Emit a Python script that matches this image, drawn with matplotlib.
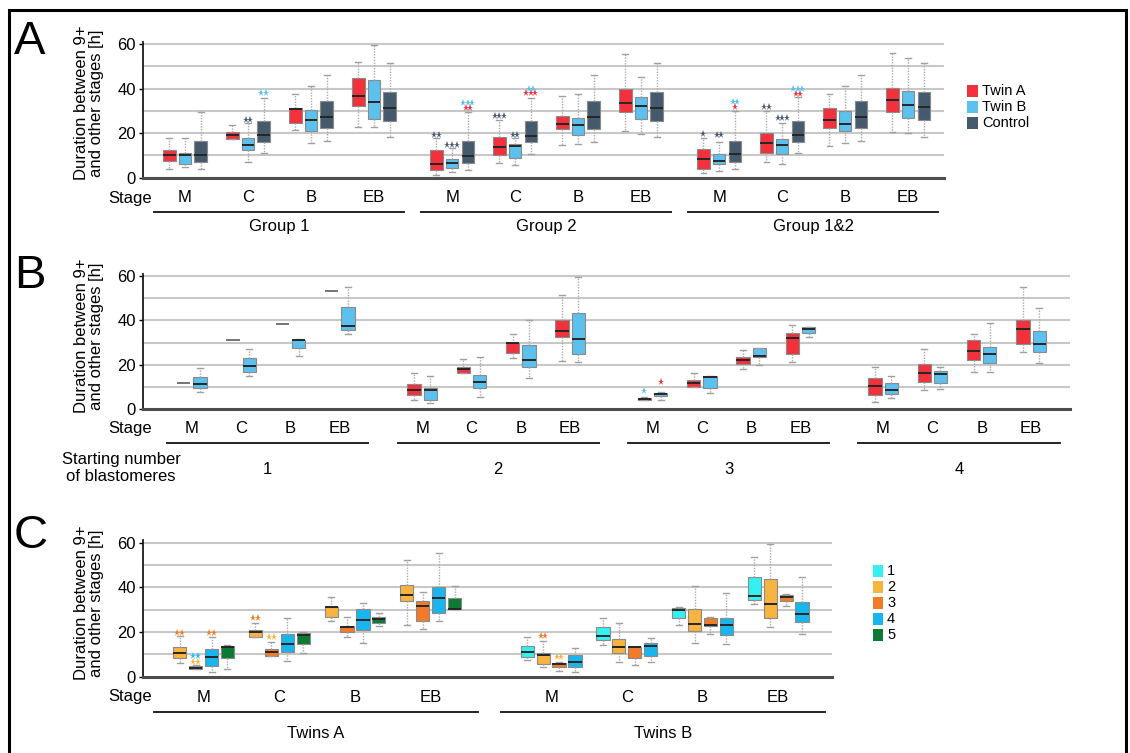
import matplotlib
matplotlib.use('Agg')
import matplotlib.pyplot as plt
import matplotlib.transforms as mtransforms
from matplotlib.patches import Rectangle
from matplotlib.lines import Line2D

plt.rcParams['font.family'] = ['Liberation Sans', 'DejaVu Sans']

W, H = 1130, 753
fig = plt.figure(figsize=(W / 100, H / 100), dpi=100)

# ---------------- data ----------------
stages = ['M', 'C', 'B', 'EB']
groups_A = ['Group 1', 'Group 2', 'Group 1&2']
groups_B = ['1', '2', '3', '4']
groups_C = ['Twins A', 'Twins B']
series_A = ['Twin A', 'Twin B', 'Control']
legend_C = ['1', '2', '3', '4', '5']

# each box: (whisker low, Q1, median, Q3, whisker high); order: group x stage
A_twin_a = [(3.8, 7.5, 10.1, 12.4, 17.8), (17.3, 17.3, 19.2, 20.4, 23.8),
            (21.6, 24.7, 30.9, 31.4, 37.7), (22.9, 32.0, 36.5, 44.9, 52.0),
            (1.2, 3.3, 6.3, 12.4, 17.8), (6.8, 10.3, 13.9, 18.1, 25.9),
            (14.8, 21.7, 24.1, 27.9, 36.7), (20.8, 29.4, 33.6, 39.7, 55.5),
            (1.9, 4.0, 8.4, 12.7, 17.7), (6.9, 10.9, 15.7, 20.2, 29.9),
            (14.2, 22.2, 25.9, 31.1, 37.6), (20.7, 29.3, 34.9, 40.1, 55.8)]
A_twin_b = [(4.8, 6.0, 10.2, 11.0, 17.8), (7.2, 12.4, 14.8, 17.8, 24.4),
            (15.5, 21.1, 25.9, 30.5, 41.0), (22.9, 26.4, 33.8, 44.0, 59.6),
            (2.7, 4.5, 6.5, 8.3, 13.3), (5.6, 8.7, 14.3, 15.1, 17.8),
            (15.1, 19.3, 23.8, 26.8, 37.7), (19.6, 26.4, 32.0, 36.2, 45.2),
            (3.1, 6.1, 7.6, 10.6, 16.2), (6.1, 10.6, 14.7, 17.2, 24.7),
            (15.4, 21.1, 24.1, 30.1, 41.2), (19.9, 26.6, 32.6, 39.1, 53.6)]
A_control = [(3.8, 7.1, 10.2, 16.6, 29.7), (10.9, 16.1, 19.2, 25.6, 35.9),
             (16.3, 22.2, 27.1, 34.4, 46.3), (18.4, 25.6, 31.4, 38.5, 51.3),
             (3.3, 6.8, 9.8, 16.3, 29.7), (10.6, 15.8, 18.7, 25.6, 35.9),
             (16.1, 21.9, 27.1, 34.4, 46.3), (18.1, 25.6, 31.4, 38.5, 51.3),
             (3.7, 7.0, 10.5, 16.6, 29.9), (10.9, 16.2, 19.0, 25.6, 36.4),
             (16.5, 22.2, 27.4, 34.6, 46.1), (18.4, 25.9, 31.6, 38.5, 51.3)]
# significance marks: (group, stage, series, number of stars, colour key, value)
A_stars = [(0, 1, 1, 2, 'ctrl', 25.9), (0, 1, 2, 2, 'b', 38.0),
           (1, 0, 0, 2, 'ctrl', 19.3), (1, 0, 1, 3, 'ctrl', 14.8),
           (1, 0, 2, 2, 'a', 31.4), (1, 0, 2, 3, 'b', 33.6),
           (1, 1, 0, 3, 'ctrl', 27.8), (1, 1, 1, 2, 'ctrl', 19.3),
           (1, 1, 2, 3, 'a', 38.0), (1, 1, 2, 2, 'b', 39.8),
           (2, 0, 0, 1, 'ctrl', 19.6), (2, 0, 1, 2, 'ctrl', 19.0),
           (2, 0, 2, 1, 'a', 31.6), (2, 0, 2, 2, 'b', 34.1),
           (2, 1, 0, 2, 'ctrl', 31.9), (2, 1, 1, 3, 'ctrl', 26.6),
           (2, 1, 2, 2, 'a', 37.6), (2, 1, 2, 3, 'b', 39.7)]

# Panel B: Twin A with 1 starting blastomere has a single embryo
B_twin_a_single = [12.0, 31.0, 38.6, 53.2]
B_twin_a = [(4.2, 6.4, 8.7, 11.2, 16.2), (16.2, 16.2, 18.1, 18.9, 22.6),
            (23.2, 25.2, 29.7, 29.7, 34.1), (21.9, 32.7, 35.4, 40.0, 51.6),
            (4.0, 4.2, 4.6, 5.2, 5.4), (10.0, 10.0, 11.7, 13.2, 16.2),
            (18.1, 20.4, 22.2, 23.4, 26.7), (21.1, 24.9, 31.9, 34.2, 37.8),
            (3.4, 6.3, 10.5, 13.9, 19.2), (8.7, 12.4, 16.2, 20.2, 27.1),
            (16.6, 22.2, 26.2, 31.2, 33.9), (25.6, 29.2, 36.0, 40.2, 55.2)]
B_twin_b = [(8.0, 9.7, 11.3, 14.6, 18.8), (15.0, 16.9, 19.5, 23.1, 27.1),
            (24.0, 27.4, 31.0, 31.3, 31.5), (33.8, 35.6, 37.5, 45.9, 55.1),
            (3.0, 4.2, 8.7, 9.4, 15.0), (5.7, 9.7, 12.1, 15.4, 23.4),
            (13.9, 19.2, 22.3, 29.1, 40.3), (21.1, 24.9, 31.7, 43.4, 59.6),
            (4.2, 6.0, 6.9, 7.5, 7.9), (7.2, 9.7, 14.5, 15.0, 15.0),
            (19.9, 23.4, 24.0, 27.4, 27.4), (32.4, 34.5, 36.1, 37.2, 37.2),
            (4.9, 6.7, 8.7, 12.0, 15.1), (9.3, 11.7, 15.9, 17.4, 19.2),
            (16.9, 20.7, 24.9, 27.9, 38.7), (21.0, 25.9, 29.5, 35.1, 45.7)]
B_stars = [(2, 0, 0, 1, 'b', 8.4), (2, 0, 1, 1, 'a', 12.1)]

# Panel C: per starting number of blastomeres, stages M, C, B, EB
CA_2 = [(6.3, 8.5, 10.6, 13.2, 18.2), (17.9, 17.9, 20.2, 20.9, 24.2),
        (25.1, 26.9, 31.0, 31.3, 35.5), (23.2, 34.0, 36.6, 41.0, 52.2)]
CA_3 = [(3.3, 3.5, 4.0, 4.8, 5.2), (9.4, 9.4, 11.2, 12.5, 15.4),
        (17.6, 20.1, 22.2, 22.9, 26.6), (21.2, 25.0, 31.8, 33.9, 37.9)]
CA_4 = [(1.9, 4.9, 9.0, 12.2, 18.0), (7.2, 10.9, 14.6, 19.0, 26.1),
        (15.3, 21.0, 25.2, 30.3, 33.1), (24.9, 28.4, 35.4, 40.0, 55.5)]
CA_5 = [(3.3, 8.5, 13.4, 13.9, 14.2), (10.4, 14.5, 18.7, 19.4, 19.9),
        (22.8, 24.2, 25.9, 26.9, 28.4), (30.1, 30.1, 30.5, 35.4, 40.6)]
CB_1 = [(7.5, 9.0, 11.2, 13.7, 17.6), (14.2, 16.4, 18.4, 22.4, 26.1),
        (23.0, 26.4, 29.9, 30.6, 31.0), (32.5, 34.3, 36.1, 44.5, 53.4)]
CB_2 = [(4.5, 5.5, 9.7, 10.4, 16.1), (6.7, 10.4, 13.4, 16.7, 23.9),
        (15.2, 20.4, 23.6, 30.1, 40.6), (22.1, 26.1, 32.4, 43.6, 59.3)]
CB_3 = [(2.7, 4.5, 5.5, 6.0, 6.7), (5.2, 8.2, 13.2, 13.4, 13.4),
        (19.1, 22.7, 23.1, 26.4, 26.6), (31.6, 34.0, 35.5, 36.6, 37.0)]
CB_4 = [(2.2, 4.5, 6.4, 9.7, 12.7), (6.7, 9.4, 13.7, 14.9, 17.2),
        (14.6, 18.7, 23.1, 26.1, 37.3), (19.1, 24.3, 27.9, 33.6, 44.8)]
C_stars = [(0, 0, 0, 2, '3', 19.7), (0, 0, 1, 2, '4', 9.4),
           (0, 0, 1, 2, '2', 6.4), (0, 0, 2, 2, '3', 19.7),
           (0, 1, 0, 2, '3', 26.1), (0, 1, 1, 2, '2', 17.6),
           (1, 0, 1, 2, '3', 18.2), (1, 0, 2, 2, '2', 9.0)]

# ---------------- styling ----------------
COL = {'a': '#F2313C', 'b': '#5CC1EE', 'ctrl': '#465A6E',
       '1': '#35F0F0', '2': '#F8B43E', '3': '#F27B2A', '4': '#17B6EE', '5': '#0C7A35'}
STAR_COL = {'a': '#F2313C', 'b': '#55C3F2', 'ctrl': '#4A5C72',
            '2': '#F8B43E', '3': '#F27B2A', '4': '#29BDF2'}
FS = 12


def px_axes(left, right, y0, y60, ytop=61):
    unit = (y0 - y60) / 60.0
    top = y0 - ytop * unit
    ax = fig.add_axes([left / W, 1 - y0 / H, (right - left) / W, (y0 - top) / H])
    ax.set_ylim(0, ytop)
    ax.set_yticks([0, 20, 40, 60])
    ax.set_yticks([10, 30, 50], minor=True)
    ax.set_xticks([])
    ax.grid(True, axis='y', which='both', color='#c8c8c8', lw=1.5)
    ax.set_axisbelow(True)
    for s in ('top', 'right'):
        ax.spines[s].set_visible(False)
    ax.spines['bottom'].set_color('#4d4d4d')
    ax.spines['bottom'].set_linewidth(2.2)
    ax.spines['left'].set_color('#1a1a1a')
    ax.spines['left'].set_linewidth(1.3)
    ax.tick_params(axis='y', which='major', labelsize=FS, length=3, pad=2, width=1)
    ax.tick_params(axis='y', which='minor', length=0)
    ax._px_width = right - left
    return ax


def draw_boxes(ax, boxes, positions, width, color):
    stats = [dict(whislo=b[0], q1=b[1], med=b[2], q3=b[3], whishi=b[4]) for b in boxes]
    ax.bxp(stats, positions=positions, widths=width, patch_artist=True,
           showfliers=False, manage_ticks=False, capwidths=width * 0.45,
           boxprops=dict(facecolor=color, edgecolor='#8a8a8a', lw=0.8),
           medianprops=dict(color='#262626', lw=1.4),
           whiskerprops=dict(color='#ababab', lw=1.0, ls=(0, (1, 1))),
           capprops=dict(color='#a0a0a0', lw=1.0))


def stars(ax, marks, pos_fn):
    x0, x1 = ax.get_xlim()
    dx = 4.6 * (x1 - x0) / ax._px_width  # ~4.6 px between stars
    for g, s, k, n, ck, v in marks:
        c = pos_fn(g, s, k)
        xs = [c + (i - (n - 1) / 2) * dx for i in range(n)]
        ax.plot(xs, [v] * n, ls='none', marker='*', ms=5.2, mew=0,
                color=STAR_COL[ck], zorder=5)


def under_labels(ax, centers_stage, group_centers, group_half, group_names,
                 y_stage, y_line, y_group, stage_x_px):
    tr = mtransforms.blended_transform_factory(ax.transData, fig.transFigure)
    for x, lab in centers_stage:
        fig.text(x, 1 - y_stage / H, lab, transform=tr, ha='center', va='center', fontsize=FS)
    fig.text(stage_x_px / W, 1 - y_stage / H, 'Stage', ha='right', va='center', fontsize=FS)
    for c, (l, r), name in zip(group_centers, group_half, group_names):
        fig.add_artist(Line2D([l, r], [1 - y_line / H] * 2, transform=tr,
                              color='#222222', lw=1.4))
        fig.text(c, 1 - y_group / H, name, transform=tr, ha='center', va='center', fontsize=FS)


def ylabel(x_px, y_px):
    fig.text(x_px / W, 1 - y_px / H, 'Duration between 9+\nand other stages [h]',
             rotation=90, ha='center', va='center', fontsize=FS, linespacing=1.0)


# ---------------- Panel A ----------------
axA = px_axes(143, 944, 177.7, 44)
strideA = 4.24
axA.set_xlim(-0.667, 12.05)
offA = [-0.25, 0.0, 0.25]
posA = lambda g, s, k: g * strideA + s + offA[k]
for k, (data, ck) in enumerate([(A_twin_a, 'a'), (A_twin_b, 'b'), (A_control, 'ctrl')]):
    pos = [posA(i // 4, i % 4, k) for i in range(len(data))]
    draw_boxes(axA, data, pos, 0.2, COL[ck])
stars(axA, A_stars, posA)
under_labels(axA,
             [(g * strideA + s, stages[s]) for g in range(3) for s in range(4)],
             [g * strideA + 1.5 for g in range(3)],
             [(g * strideA - 0.5, g * strideA + 3.48) for g in range(3)],
             groups_A, 198, 211.5, 226, 152)
ylabel(89, 103)
for i, (name, ck) in enumerate(zip(series_A, ['a', 'b', 'ctrl'])):
    y = 91 + i * 16
    fig.add_artist(Rectangle((967 / W, 1 - (y + 6) / H), 11 / W, 12 / H,
                             transform=fig.transFigure, facecolor=COL[ck], edgecolor='none'))
    fig.text(982 / W, 1 - y / H, name, ha='left', va='center', fontsize=10.5)

# ---------------- Panel B ----------------
axB = px_axes(143, 1070, 409.3, 276)
strideB = 4.67
axB.set_xlim(-0.99, 17.8)
offB = [-0.165, 0.165]
posB = lambda g, s, k: g * strideB + s + offB[k]
draw_boxes(axB, B_twin_a, [posB(1 + i // 4, i % 4, 0) for i in range(len(B_twin_a))],
           0.27, COL['a'])
draw_boxes(axB, B_twin_b, [posB(i // 4, i % 4, 1) for i in range(len(B_twin_b))],
           0.27, COL['b'])
xs_single = [posB(0, s, 0) for s in range(len(B_twin_a_single))]
axB.hlines(B_twin_a_single, [x - 0.135 for x in xs_single], [x + 0.135 for x in xs_single],
           color='#6a6a6a', lw=1.3)
stars(axB, B_stars, posB)
under_labels(axB,
             [(g * strideB + s, stages[s]) for g in range(4) for s in range(4)],
             [g * strideB + 1.54 for g in range(4)],
             [(g * strideB - 0.5, g * strideB + 3.58) for g in range(4)],
             groups_B, 428, 443, 470, 152)
fig.text(121 / W, 1 - 468 / H, 'Starting number\nof blastomeres', ha='center', va='center',
         fontsize=FS, linespacing=1.15)
ylabel(89, 336)

# ---------------- Panel C ----------------
axC = px_axes(143, 832, 676.7, 542.7)
strideC = 4.59
axC.set_xlim(-0.80, 8.30)
offC = [-0.315, -0.105, 0.105, 0.315]
posC = lambda g, s, k: g * strideC + s + offC[k]
for k, (data, ck) in enumerate([(CA_2, '2'), (CA_3, '3'), (CA_4, '4'), (CA_5, '5')]):
    draw_boxes(axC, data, [posC(0, s, k) for s in range(len(data))], 0.175, COL[ck])
for k, (data, ck) in enumerate([(CB_1, '1'), (CB_2, '2'), (CB_3, '3'), (CB_4, '4')]):
    draw_boxes(axC, data, [posC(1, s, k) for s in range(len(data))], 0.175, COL[ck])
stars(axC, C_stars, posC)
under_labels(axC,
             [(g * strideC + s, stages[s]) for g in range(2) for s in range(4)],
             [g * strideC + 1.48 for g in range(2)],
             [(g * strideC - 0.66, g * strideC + 3.62) for g in range(2)],
             groups_C, 697, 712, 733, 152)
ylabel(89, 603)
for i, name in enumerate(legend_C):
    y = 571 + i * 16
    fig.add_artist(Rectangle((873 / W, 1 - (y + 6) / H), 10 / W, 12 / H,
                             transform=fig.transFigure, facecolor=COL[name], edgecolor='none'))
    fig.text(887 / W, 1 - y / H, name, ha='left', va='center', fontsize=10.5)

# panel letters and frame
for lab, yb in [('A', 54), ('B', 288), ('C', 548)]:
    fig.text(14 / W, 1 - yb / H, lab, fontsize=34, ha='left', va='baseline')
fig.add_artist(Rectangle((9 / W, -0.05), (1126 - 9) / W, 1.05 - 10 / H,
                         transform=fig.transFigure, facecolor='none',
                         edgecolor='black', lw=2.2))

fig.savefig('out.png', dpi=100)
